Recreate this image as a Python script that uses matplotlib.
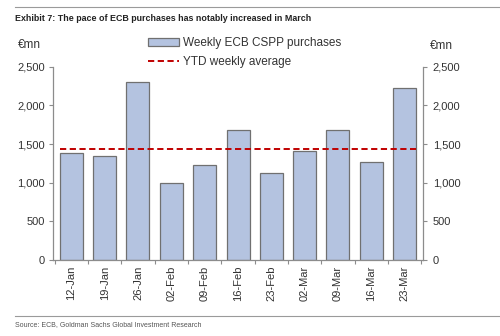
import matplotlib
matplotlib.use("Agg")
import matplotlib.pyplot as plt
import numpy as np
from matplotlib.lines import Line2D
from matplotlib.patches import Patch

plt.rcParams['font.family'] = ['Liberation Sans', 'DejaVu Sans']

weeks = ["12-Jan", "19-Jan", "26-Jan", "02-Feb", "09-Feb", "16-Feb",
         "23-Feb", "02-Mar", "09-Mar", "16-Mar", "23-Mar"]
purchases = [1388, 1345, 2302, 993, 1227, 1684, 1123, 1408, 1680, 1269, 2224]
ytd_average = 1440
yticks = [0, 500, 1000, 1500, 2000, 2500]

bar_color = "#b4c3e0"
edge_color = "#707070"
line_color = "#c00000"
spine_color = "#8c8c8c"
text_color = "#333333"

fig = plt.figure(figsize=(5.0, 3.36), dpi=100)
ax = fig.add_axes([0.106, 0.2262, 0.740, 0.5753])

x = np.arange(len(weeks))
ax.bar(x, purchases, width=0.69, color=bar_color, edgecolor=edge_color,
       linewidth=0.9, zorder=2)
ax.plot([x[0] - 0.35, x[-1] + 0.35], [ytd_average, ytd_average],
        color=line_color, linestyle=(0, (3.2, 1.8)), linewidth=1.4, zorder=3)

ax.set_xlim(-0.55, len(weeks) - 0.45)
ax.set_ylim(0, 2500)
ax.set_yticks(yticks)
ax.set_yticklabels([f"{v:,}" for v in yticks], fontsize=8, color=text_color)
ax.set_xticks(x)
ax.set_xticklabels(weeks, rotation=90, fontsize=8, color=text_color)
ax.set_xticks(np.arange(-0.5, len(weeks), 1.0), minor=True)
ax.tick_params(axis='x', which='major', length=0, pad=4)
ax.tick_params(axis='x', which='minor', length=3, color=spine_color, width=0.8)
ax.tick_params(axis='y', length=3, color=spine_color, width=0.8, pad=3)

ax2 = ax.twinx()
ax2.set_ylim(0, 2500)
ax2.set_yticks(yticks)
ax2.set_yticklabels([f"{v:,}" for v in yticks], fontsize=8, color=text_color)
ax2.tick_params(axis='y', length=3, color=spine_color, width=0.8, pad=4)

for a in (ax, ax2):
    a.spines['top'].set_visible(False)
    for s in ('left', 'right', 'bottom'):
        a.spines[s].set_color(spine_color)
        a.spines[s].set_linewidth(0.9)
ax.spines['right'].set_visible(False)
ax2.spines['left'].set_visible(False)
ax2.spines['bottom'].set_visible(False)

handles = [Patch(facecolor=bar_color, edgecolor=edge_color, linewidth=0.9),
           Line2D([0], [0], color=line_color, linestyle=(0, (3.2, 1.8)), linewidth=1.4)]
fig.legend(handles, ["Weekly ECB CSPP purchases", "YTD weekly average"],
           loc='upper left', bbox_to_anchor=(0.285, 0.907), frameon=False,
           fontsize=8.5, handlelength=2.6, handleheight=0.6, handletextpad=0.3,
           labelspacing=0.55, borderpad=0, labelcolor=text_color)

fig.text(0.036, 0.866, "€mn", fontsize=8.5, va='center', ha='left', color=text_color)
fig.text(0.860, 0.862, "€mn", fontsize=8.5, va='center', ha='left', color=text_color)

fig.text(0.030, 0.944, "Exhibit 7: The pace of ECB purchases has notably increased in March",
         fontsize=6.4, fontweight='bold', va='center', ha='left', color="#222222")
fig.text(0.030, 0.033, "Source: ECB, Goldman Sachs Global Investment Research",
         fontsize=5.0, va='center', ha='left', color="#555555")

fig.add_artist(Line2D([0.030, 1.0], [0.979, 0.979], color="#9a9a9a", linewidth=0.8))
fig.add_artist(Line2D([0.030, 1.0], [0.060, 0.060], color="#9a9a9a", linewidth=0.8))

fig.savefig("out.png", dpi=100)
